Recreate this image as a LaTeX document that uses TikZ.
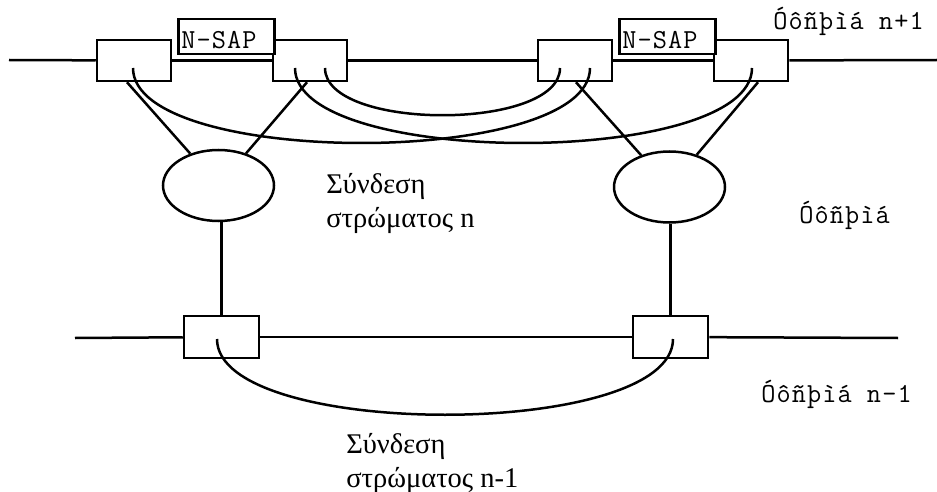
\documentclass[tikz,border=0pt]{standalone}
\usepackage{fontspec}
\setmainfont{Liberation Serif}
\newfontfamily\monofont{Latin Modern Mono}[LetterSpace=4]
\usetikzlibrary{shapes.geometric,calc}
\begin{document}
\begin{tikzpicture}[x=1pt,y=-1pt,line width=2.5pt,
  sapbox/.style={draw,fill=white,minimum width=74pt,minimum height=41pt,inner sep=0pt},
  lowbox/.style={draw,fill=white,minimum width=75pt,minimum height=42pt,inner sep=0pt},
  nsap/.style={draw,fill=white,inner xsep=3pt,inner ysep=0pt,text width=90pt,align=left,
     text height=29pt,text depth=6pt,font=\monofont\fontsize{27.5}{30}\selectfont},
  ent/.style={draw,ellipse,minimum width=111pt,minimum height=71pt,inner sep=0pt},
  mlabel/.style={inner sep=0pt,anchor=base west,font=\monofont\fontsize{27.5}{30}\selectfont},
  glabel/.style={inner sep=0pt,anchor=base west,align=left,font=\fontsize{28.5}{34}\selectfont},
  arc/.style={line cap=butt}]
\useasboundingbox (0,0) rectangle (937,492);
% layer n+1
\coordinate (Lt) at (9,60);
\coordinate (Rt) at (937,60);
\node[sapbox] (A1) at (134,60.5) {};
\node[sapbox] (A2) at (310,60.5) {};
\node[sapbox] (B1) at (575,60.5) {};
\node[sapbox] (B2) at (751,60.5) {};
\draw (Lt) -- (A1);
\draw (A1) -- (A2);
\draw (A2) -- (B1);
\draw (B1) -- (B2);
\draw (B2) -- (Rt);
\node[nsap,anchor=north west] (S1) at (177,18) {N-SAP};
\node[nsap,anchor=north west] (S2) at (618,18) {N-SAP};
\node[mlabel] (L1) at (772,30) {Óôñþìá n+1};
% entities
\node[ent] (E1) at (218.5,185.5) {};
\node[ent] (E2) at (669.5,187) {};
\coordinate (A1b) at ($(A1.south)+(-7,0)$);
\coordinate (A2b) at ($(A2.south)+(-3,0)$);
\coordinate (B1b) at ($(B1.south)+(1,0)$);
\coordinate (B2b) at ($(B2.south)+(7,0)$);
\draw (A1b) -- (E1);
\draw (A2b) -- (E1);
\draw (B1b) -- (E2);
\draw (B2b) -- (E2);
% connections of layer n
\coordinate (A1c) at ($(A1.center)+(-1,7.5)$);
\coordinate (A2l) at ($(A2.center)+(-15,7.5)$);
\coordinate (A2r) at ($(A2.center)+(15,7.5)$);
\coordinate (B1l) at ($(B1.center)+(-15,7.5)$);
\coordinate (B1r) at ($(B1.center)+(15,7.5)$);
\coordinate (B2c) at ($(B2.center)+(1,7.5)$);
\draw[arc] (A1c) .. controls ($(A1c)+(0,100)$) and ($(B1r)+(0,100)$) .. (B1r);
\draw[arc] (A2l) .. controls ($(A2l)+(0,100)$) and ($(B2c)+(0,100)$) .. (B2c);
\draw[arc] (A2r) .. controls ($(A2r)+(0,63)$) and ($(B1l)+(0,63)$) .. (B1l);
\node[glabel] (T1) at (325,227) {Σύνδεση\\στρώματος n};
\node[mlabel] (L2) at (798,223) {Óôñþìá};
% layer n-1
\coordinate (Lb) at (75,338);
\coordinate (Rb) at (898,338);
\node[lowbox] (C1) at (221.5,337) {};
\node[lowbox] (C2) at (670.5,337) {};
\draw (Lb) -- (C1);
\draw (C1) -- (C2);
\draw (C2) -- (Rb);
\draw (C1.north |- E1.south) -- (C1.north);
\draw (C2.north |- E2.south) -- (C2.north);
\coordinate (C1c) at ($(C1.center)+(-4.5,2)$);
\coordinate (C2c) at ($(C2.center)+(2.5,2)$);
\draw[arc] (C1c) .. controls ($(C1c)+(0,101)$) and ($(C2c)+(0,101)$) .. (C2c);
\node[mlabel] (L3) at (760,402) {Óôñþìá n-1};
\node[glabel] (T2) at (345,487) {Σύνδεση\\στρώματος n-1};
\end{tikzpicture}
\end{document}
